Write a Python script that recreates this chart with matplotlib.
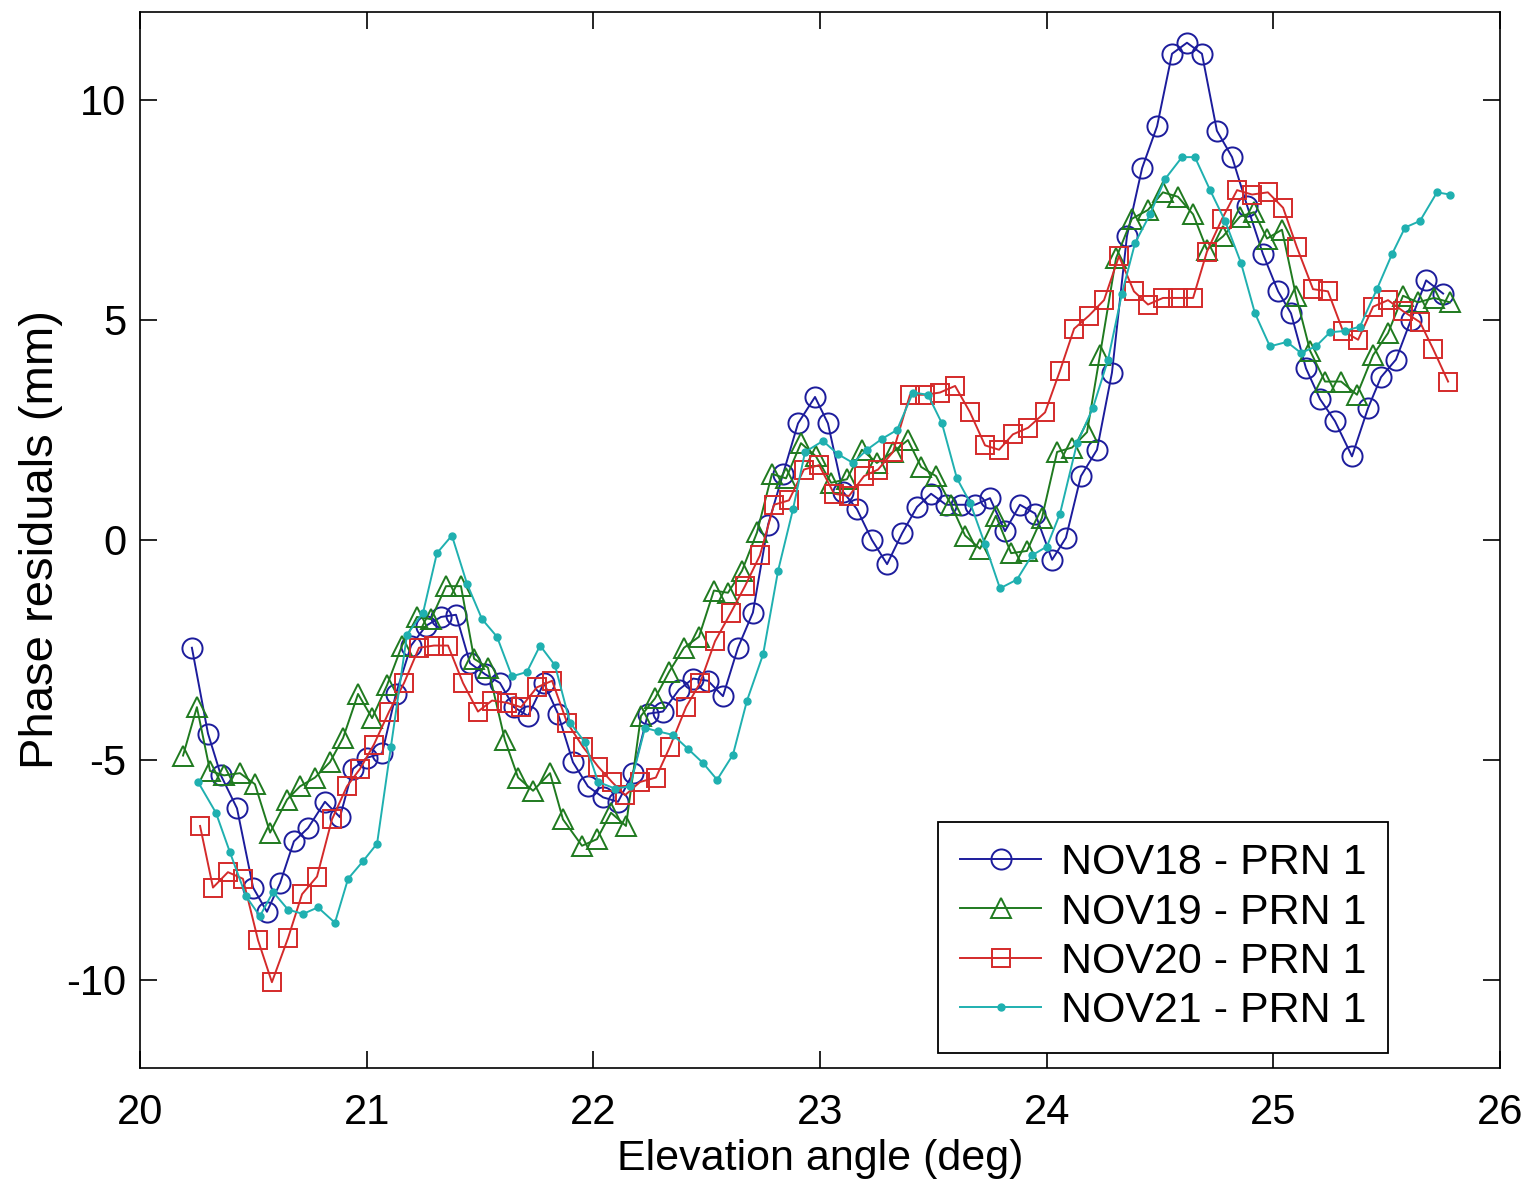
import matplotlib
matplotlib.use("Agg")
import matplotlib.pyplot as plt

plt.rcParams['font.family'] = ['Liberation Sans', 'DejaVu Sans']
plt.rcParams['axes.unicode_minus'] = False

# NOV18 - PRN 1 (blue circles)
ang18 = [20.229, 20.300, 20.357, 20.428, 20.499, 20.560, 20.618, 20.679, 20.741, 20.816,
         20.882, 20.940, 21.001, 21.068, 21.129, 21.196, 21.262, 21.328, 21.394, 21.456,
         21.522, 21.588, 21.650, 21.712, 21.782, 21.844, 21.910, 21.976, 22.043, 22.109,
         22.175, 22.241, 22.307, 22.378, 22.440, 22.506, 22.572, 22.638, 22.704, 22.771,
         22.837, 22.903, 22.978, 23.035, 23.101, 23.163, 23.229, 23.296, 23.362, 23.428,
         23.490, 23.556, 23.622, 23.684, 23.750, 23.816, 23.882, 23.949, 24.024, 24.085,
         24.151, 24.222, 24.288, 24.354, 24.421, 24.487, 24.553, 24.619, 24.685, 24.751,
         24.818, 24.884, 24.954, 25.021, 25.078, 25.144, 25.206, 25.272, 25.347, 25.418,
         25.475, 25.541, 25.607, 25.674, 25.749]
res18 = [-2.45, -4.4, -5.35, -6.1, -7.9, -8.45, -7.8, -6.85, -6.55, -5.95,
         -6.3, -5.2, -4.95, -4.85, -3.5, -2.4, -1.95, -1.75, -1.7, -2.8,
         -3.05, -3.25, -3.8, -4.0, -3.25, -3.95, -5.05, -5.6, -5.85, -5.95,
         -5.3, -3.95, -3.9, -3.4, -3.15, -3.2, -3.55, -2.45, -1.65, 0.35,
         1.5, 2.65, 3.25, 2.65, 1.1, 0.7, 0.0, -0.55, 0.15, 0.75,
         1.05, 0.8, 0.8, 0.8, 0.95, 0.2, 0.8, 0.6, -0.45, 0.05,
         1.45, 2.05, 3.8, 6.9, 8.45, 9.4, 11.05, 11.3, 11.05, 9.3,
         8.7, 7.6, 6.5, 5.65, 5.15, 3.9, 3.2, 2.7, 1.9, 3.0,
         3.7, 4.1, 5.0, 5.9, 5.6]

# NOV19 - PRN 1 (green triangles)
ang19 = [20.190, 20.251, 20.309, 20.371, 20.441, 20.507, 20.574, 20.649, 20.706, 20.772,
         20.838, 20.896, 20.962, 21.024, 21.090, 21.156, 21.222, 21.284, 21.350, 21.416,
         21.474, 21.535, 21.610, 21.668, 21.734, 21.809, 21.866, 21.950, 22.016, 22.078,
         22.144, 22.210, 22.272, 22.334, 22.400, 22.466, 22.532, 22.594, 22.656, 22.722,
         22.788, 22.850, 22.916, 22.982, 23.049, 23.119, 23.185, 23.251, 23.322, 23.388,
         23.446, 23.512, 23.578, 23.640, 23.706, 23.776, 23.843, 23.913, 23.979, 24.046,
         24.112, 24.178, 24.235, 24.306, 24.376, 24.447, 24.513, 24.579, 24.646, 24.707,
         24.778, 24.853, 24.915, 24.972, 25.038, 25.100, 25.162, 25.228, 25.299, 25.369,
         25.440, 25.506, 25.572, 25.638, 25.709, 25.779]
res19 = [-4.9, -3.8, -5.25, -5.35, -5.3, -5.55, -6.65, -5.9, -5.6, -5.4,
         -5.05, -4.5, -3.5, -4.05, -3.3, -2.4, -1.75, -1.8, -1.05, -1.05,
         -2.7, -2.9, -4.55, -5.4, -5.7, -5.3, -6.35, -6.95, -6.8, -6.2,
         -6.5, -4.0, -3.6, -3.0, -2.45, -2.2, -1.15, -1.2, -0.7, 0.17,
         1.5, 1.4, 2.2, 1.9, 1.3, 1.38, 2.05, 1.75, 2.0, 2.27,
         1.66, 1.45, 0.8, 0.1, -0.2, 0.55, -0.3, -0.25, 0.5, 2.0,
         2.1, 2.45, 4.2, 6.4, 7.3, 7.5, 7.9, 7.8, 7.4, 6.6,
         6.9, 7.35, 7.45, 6.85, 7.05, 5.55, 4.3, 3.6, 3.6, 3.3,
         4.2, 4.7, 5.55, 5.4, 5.5, 5.4]

# NOV20 - PRN 1 (red squares)
ang20 = [20.265, 20.322, 20.388, 20.454, 20.521, 20.582, 20.653, 20.715, 20.781, 20.847,
         20.913, 20.971, 21.032, 21.099, 21.165, 21.231, 21.297, 21.359, 21.425, 21.491,
         21.553, 21.619, 21.681, 21.751, 21.818, 21.884, 21.954, 22.021, 22.082, 22.140,
         22.206, 22.276, 22.338, 22.409, 22.471, 22.537, 22.607, 22.669, 22.735, 22.797,
         22.863, 22.929, 22.996, 23.062, 23.128, 23.194, 23.256, 23.322, 23.397, 23.463,
         23.529, 23.596, 23.662, 23.728, 23.790, 23.851, 23.918, 23.993, 24.059, 24.121,
         24.187, 24.253, 24.319, 24.385, 24.447, 24.513, 24.579, 24.646, 24.707, 24.774,
         24.840, 24.906, 24.976, 25.043, 25.104, 25.175, 25.241, 25.307, 25.374, 25.440,
         25.506, 25.572, 25.647, 25.704, 25.771]
res20 = [-6.5, -7.9, -7.55, -7.7, -9.1, -10.05, -9.05, -8.05, -7.65, -6.35,
         -5.6, -5.2, -4.65, -3.9, -3.25, -2.45, -2.4, -2.4, -3.25, -3.9,
         -3.65, -3.7, -3.8, -3.35, -3.2, -4.15, -4.7, -5.15, -5.5, -5.8,
         -5.5, -5.4, -4.7, -3.8, -3.25, -2.3, -1.65, -1.05, -0.35, 0.8,
         0.9, 1.6, 1.7, 1.05, 1.0, 1.45, 1.6, 2.0, 3.3, 3.3,
         3.35, 3.5, 2.9, 2.15, 2.05, 2.4, 2.55, 2.9, 3.85, 4.8,
         5.1, 5.45, 6.45, 5.65, 5.35, 5.5, 5.5, 5.5, 6.55, 7.3,
         7.95, 7.85, 7.9, 7.55, 6.65, 5.7, 5.65, 4.75, 4.55, 5.3,
         5.45, 5.2, 4.95, 4.35, 3.6]

# NOV21 - PRN 1 (cyan dots)
ang21 = [20.256, 20.335, 20.397, 20.468, 20.529, 20.587, 20.653, 20.719, 20.785, 20.860,
         20.918, 20.984, 21.046, 21.107, 21.178, 21.249, 21.310, 21.376, 21.443, 21.509,
         21.575, 21.641, 21.707, 21.765, 21.831, 21.897, 21.963, 22.021, 22.096, 22.162,
         22.228, 22.285, 22.351, 22.418, 22.484, 22.546, 22.616, 22.678, 22.749, 22.815,
         22.881, 22.934, 23.013, 23.079, 23.146, 23.207, 23.274, 23.340, 23.410, 23.476,
         23.538, 23.604, 23.662, 23.728, 23.794, 23.869, 23.935, 24.001, 24.059, 24.134,
         24.204, 24.271, 24.332, 24.390, 24.456, 24.522, 24.597, 24.654, 24.721, 24.787,
         24.857, 24.919, 24.985, 25.060, 25.122, 25.188, 25.250, 25.316, 25.382, 25.457,
         25.524, 25.581, 25.647, 25.722, 25.779]
res21 = [-5.5, -6.2, -7.1, -8.1, -8.55, -8.0, -8.4, -8.5, -8.35, -8.7,
         -7.7, -7.3, -6.9, -4.7, -2.15, -1.65, -0.3, 0.1, -1.0, -1.8,
         -2.2, -3.1, -3.0, -2.4, -2.85, -4.15, -4.6, -5.5, -5.65, -5.6,
         -4.27, -4.35, -4.43, -4.75, -5.07, -5.45, -4.88, -3.65, -2.6, -0.7,
         0.7, 2.0, 2.25, 1.95, 1.75, 2.05, 2.3, 2.5, 3.35, 3.3,
         2.65, 1.4, 0.85, -0.1, -1.1, -0.9, -0.35, -0.15, 0.6, 2.2,
         3.0, 4.1, 5.6, 6.75, 7.4, 8.2, 8.7, 8.7, 7.95, 7.25,
         6.3, 5.15, 4.4, 4.5, 4.25, 4.4, 4.72, 4.75, 4.85, 5.7,
         6.5, 7.1, 7.25, 7.9, 7.85]

fig = plt.figure(figsize=(15.3, 11.93), dpi=100)
ax = fig.add_axes([0.0915, 0.1048, 0.8889, 0.8852])

ax.plot(ang18, res18, '-', color='#1c1c9c', lw=1.4, marker='o', ms=14.5,
        mfc='none', mec='#1c1c9c', mew=1.4, label='NOV18 - PRN 1')
ax.plot(ang19, res19, '-', color='#1f7a1f', lw=1.4, marker='^', ms=14.5,
        mfc='none', mec='#1f7a1f', mew=1.4, label='NOV19 - PRN 1')
ax.plot(ang20, res20, '-', color='#d42a2a', lw=1.4, marker='s', ms=12.5,
        mfc='none', mec='#d42a2a', mew=1.4, label='NOV20 - PRN 1')
ax.plot(ang21, res21, '-', color='#1fb0b0', lw=1.4, marker='.', ms=10,
        label='NOV21 - PRN 1')

ax.set_xlim(20, 26)
ax.set_ylim(-12, 12)
ax.set_xticks([20, 21, 22, 23, 24, 25, 26])
ax.set_yticks([-10, -5, 0, 5, 10])
ax.tick_params(direction='in', length=12, width=1.2, labelsize=30,
               top=True, right=True)
ax.tick_params(axis='x', pad=18)
ax.tick_params(axis='y', pad=10)
for s in ax.spines.values():
    s.set_linewidth(1.2)

ax.set_xlabel('Elevation angle (deg)', fontsize=31, labelpad=4)
ax.set_ylabel('Phase residuals (mm)', fontsize=34, labelpad=2)

leg = ax.legend(loc='lower right', bbox_to_anchor=(0.9176, 0.0142),
                borderaxespad=0, fontsize=31, numpoints=1,
                handlelength=1.9, handletextpad=0.45, borderpad=0.5,
                labelspacing=0.22, fancybox=False, framealpha=1)
leg.get_frame().set_edgecolor('black')
leg.get_frame().set_linewidth(1.3)

fig.savefig('out.png', dpi=100)
